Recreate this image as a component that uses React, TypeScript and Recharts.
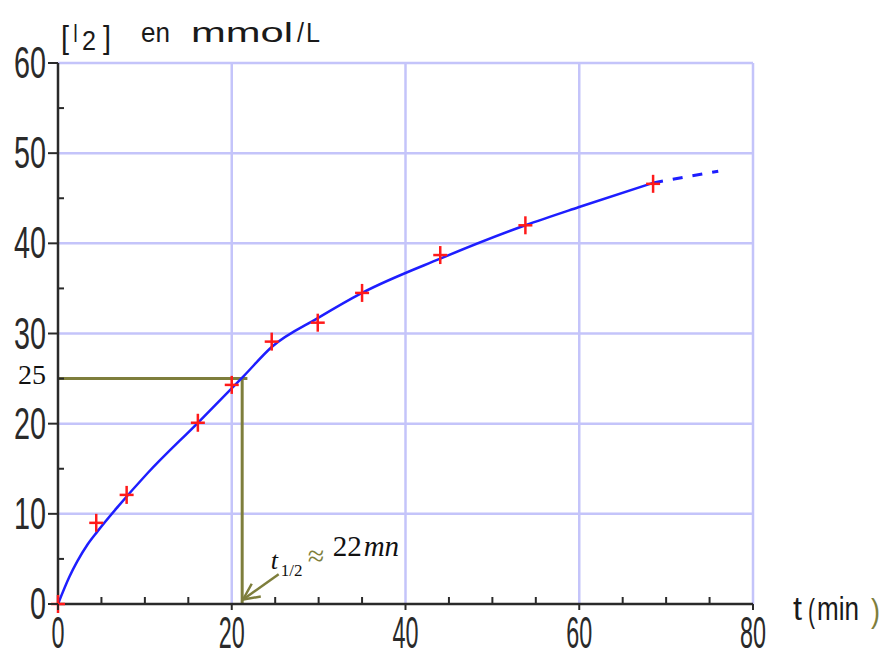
import React from 'react'
import {
  ComposedChart,
  Line,
  Scatter,
  XAxis,
  YAxis,
  CartesianGrid,
  ReferenceLine,
  ReferenceDot,
  Label,
} from 'recharts'

// measured points (red crosses)
const measureT = [0, 4.4, 7.9, 16.1, 20, 24.6, 29.9, 35, 44, 53.8, 68.5]
const measureI2 = [0, 9, 12.1, 20.1, 24.3, 29.1, 31.2, 34.5, 38.7, 42, 46.6]

// fitted curve, solid part
const curveT = [0, 1.3, 2.2, 3.4, 4.5, 6.9, 10.3, 16.1, 21.4, 24.6, 29.9, 35, 44, 53.8, 59.9, 68.5]
const curveI2 = [0, 3, 4.7, 6.6, 8, 10.8, 14.5, 20.1, 25.3, 28.5, 31.7, 34.5, 38.3, 42, 44, 46.7]

// extrapolated part (dashed)
const extraT = [68.5, 73, 76]
const extraI2 = [46.7, 47.5, 48]

// half-life reading
const halfValue = 25
const halfTime = 21.2

const xTicks = [0, 5, 10, 15, 20, 25, 30, 35, 40, 45, 50, 55, 60, 65, 70, 75, 80]
const xLabels = [0, 20, 40, 60, 80]
const yTicks = [0, 5, 10, 15, 20, 25, 30, 35, 40, 45, 50, 55, 60]
const yLabels = [0, 10, 20, 30, 40, 50, 60]

const AXIS = '#2a2a2a'
const GRID = '#c4c4fa'
const BLUE = '#1e1eff'
const RED = '#ff1a1a'
const OLIVE = '#7e7e3c'
const SANS = 'Liberation Sans, Arial, sans-serif'
const SERIF = 'Liberation Serif, Times New Roman, serif'

const zip = (xs: number[], ys: number[]) => xs.map((x, i) => ({ x, y: ys[i] }))
const measured = zip(measureT, measureI2)
const curve = zip(curveT, curveI2)
const extra = zip(extraT, extraI2)

function XTick(props: any) {
  const { x, y, payload } = props
  const v = payload.value
  if (xLabels.includes(v)) {
    const s = String(v)
    return (
      <g>
        <line x1={x} y1={y} x2={x} y2={y + 6} stroke={AXIS} strokeWidth={2} />
        <text
          x={x}
          y={y + 44}
          textAnchor="middle"
          fontSize={44}
          fontFamily={SANS}
          fill={AXIS}
          textLength={13 * s.length}
          lengthAdjust="spacingAndGlyphs"
        >
          {s}
        </text>
      </g>
    )
  }
  return <line x1={x} y1={y} x2={x} y2={y - 7} stroke={AXIS} strokeWidth={2} />
}

function YTick(props: any) {
  const { x, y, payload } = props
  const v = payload.value
  if (yLabels.includes(v)) {
    const s = String(v)
    return (
      <g>
        <line x1={x - 10} y1={y} x2={x} y2={y} stroke={AXIS} strokeWidth={2} />
        <text
          x={x - 12}
          y={y + 15}
          textAnchor="end"
          fontSize={44}
          fontFamily={SANS}
          fill={AXIS}
          textLength={16 * s.length}
          lengthAdjust="spacingAndGlyphs"
        >
          {s}
        </text>
      </g>
    )
  }
  return <line x1={x} y1={y} x2={x + 6} y2={y} stroke={AXIS} strokeWidth={2} />
}

function Cross(props: any) {
  const { cx, cy } = props
  return (
    <g stroke={RED} strokeWidth={2.5}>
      <line x1={cx} y1={cy - 9} x2={cx} y2={cy + 9} />
      <line x1={cx - 7} y1={cy} x2={cx + 7} y2={cy} />
    </g>
  )
}

// title above the y axis: [I2] en mmol/L
function YName(props: any) {
  const vb = props.viewBox
  const bx = vb.x + vb.width
  const by = 42
  const t = { fontFamily: SANS, fill: '#1a1a1a', lengthAdjust: 'spacingAndGlyphs' as const }
  return (
    <g>
      <text {...t} x={bx + 3} y={by + 6} fontSize={31} textLength={8}>[</text>
      <text {...t} x={bx + 15} y={by} fontSize={25} textLength={5}>I</text>
      <text {...t} x={bx + 24} y={by + 8} fontSize={27} textLength={14}>2</text>
      <text {...t} x={bx + 45} y={by + 6} fontSize={31} textLength={8}>]</text>
      <text {...t} x={bx + 83} y={by} fontSize={27} textLength={29}>en</text>
      <text {...t} x={bx + 133} y={by} fontSize={27} textLength={102}>mmol</text>
      <text {...t} x={bx + 239} y={by} fontSize={27} textLength={7}>/</text>
      <text {...t} x={bx + 248} y={by} fontSize={27} textLength={14}>L</text>
    </g>
  )
}

// axis name at the end of the x axis: t (min )
function XName(props: any) {
  const vb = props.viewBox
  const bx = vb.x + vb.width
  const by = vb.y + 16
  const t = { fontFamily: SANS, fontSize: 34, lengthAdjust: 'spacingAndGlyphs' as const }
  return (
    <g>
      <text {...t} fill="#1a1a1a" x={bx + 40} y={by} textLength={9}>t</text>
      <text {...t} fill="#1a1a1a" x={bx + 55} y={by + 2} textLength={7}>(</text>
      <text {...t} fill="#1a1a1a" x={bx + 64} y={by} textLength={42}>min</text>
      <text {...t} fill={OLIVE} x={bx + 118} y={by + 2} textLength={9}>)</text>
    </g>
  )
}

function HalfLabel(props: any) {
  const { cx, cy } = props
  return (
    <text x={cx - 12} y={cy + 5} textAnchor="end" fontSize={28} fontFamily={SERIF} fill="#111">
      25
    </text>
  )
}

// arrow pointing at t1/2 on the time axis, with its reading
function Arrow(props: any) {
  const { x1, y1, x2, y2 } = props
  const ang = Math.atan2(y1 - y2, x1 - x2)
  const len = 18
  const a1 = ang + 0.45
  const a2 = ang - 0.45
  return (
    <g>
      <g stroke={OLIVE} strokeWidth={2.5} fill="none">
        <line x1={x1} y1={y1} x2={x2} y2={y2} />
        <polyline
          points={`${x2 + len * Math.cos(a1)},${y2 + len * Math.sin(a1)} ${x2},${y2} ${x2 + len * Math.cos(a2)},${y2 + len * Math.sin(a2)}`}
        />
      </g>
      <text x={x1 - 8} y={y1 - 5} fontSize={26} fontStyle="italic" fontFamily={SERIF} fill="#111">t</text>
      <text x={x1 + 2} y={y1 + 2} fontSize={17} fontFamily={SERIF} fill="#111">1/2</text>
      <text x={x1 + 29} y={y1 - 8} fontSize={30} fontFamily={SERIF} fill={OLIVE}>≈</text>
      <text x={x1 + 54} y={y1 - 18} fontSize={29} fontFamily={SERIF} fill="#111">22</text>
      <text x={x1 + 85} y={y1 - 18} fontSize={29} fontStyle="italic" fontFamily={SERIF} fill="#111">mn</text>
    </g>
  )
}

export default function App() {
  return (
    <div style={{ position: 'absolute', left: 0, top: 0, width: 885, height: 658, background: '#fff' }}>
      <ComposedChart width={885} height={658} margin={{ top: 63, right: 132, bottom: 0, left: 0 }}>
        <CartesianGrid
          stroke={GRID}
          strokeWidth={2.5}
          horizontalValues={[10, 20, 30, 40, 50, 60]}
          verticalValues={[20, 40, 60, 80]}
        />
        <XAxis
          type="number"
          dataKey="x"
          domain={[0, 80]}
          ticks={xTicks}
          interval={0}
          height={54}
          tickSize={0}
          tickMargin={0}
          tickLine={false}
          axisLine={{ stroke: AXIS, strokeWidth: 2.5 }}
          tick={XTick}
          label={<Label content={XName} />}
        />
        <YAxis
          type="number"
          dataKey="y"
          domain={[0, 60]}
          ticks={yTicks}
          interval={0}
          width={58}
          tickSize={0}
          tickMargin={0}
          tickLine={false}
          axisLine={{ stroke: AXIS, strokeWidth: 2.5 }}
          tick={YTick}
          label={<Label content={YName} />}
        />
        <ReferenceLine
          segment={[{ x: 0, y: halfValue }, { x: 21.8, y: halfValue }]}
          stroke={OLIVE}
          strokeWidth={3}
        />
        <ReferenceLine
          segment={[{ x: halfTime, y: halfValue }, { x: halfTime, y: 0 }]}
          stroke={OLIVE}
          strokeWidth={3}
        />
        <ReferenceLine segment={[{ x: 25.4, y: 3.3 }, { x: 21.3, y: 0.5 }]} shape={Arrow} />
        <ReferenceDot x={0} y={halfValue} r={0} shape={HalfLabel} />
        <Line
          data={curve}
          dataKey="y"
          type="monotone"
          stroke={BLUE}
          strokeWidth={2.5}
          dot={false}
          isAnimationActive={false}
        />
        <Line
          data={extra}
          dataKey="y"
          type="monotone"
          stroke={BLUE}
          strokeWidth={3}
          strokeDasharray="10 10"
          dot={false}
          isAnimationActive={false}
        />
        <Scatter data={measured} shape={Cross} isAnimationActive={false} />
      </ComposedChart>
    </div>
  )
}
